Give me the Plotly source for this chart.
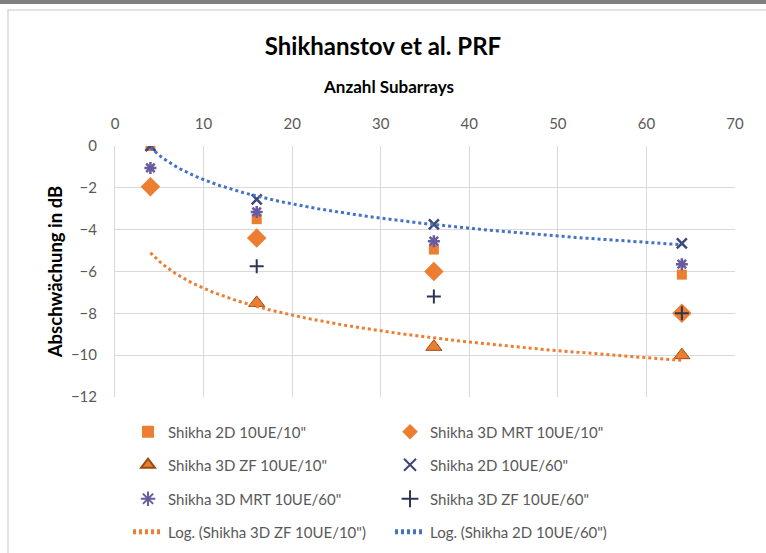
import numpy as np
import plotly.graph_objects as go

# ---- data ----
x_all = [4, 16, 36, 64]
x_zf = [16, 36, 64]

names = ['Shikha 2D 10UE/10"', 'Shikha 3D MRT 10UE/10"', 'Shikha 3D ZF 10UE/10"',
         'Shikha 2D 10UE/60"', 'Shikha 3D MRT 10UE/60"', 'Shikha 3D ZF 10UE/60"']

y_2d_10 = [0, -3.5, -4.95, -6.15]
y_mrt_10 = [-1.95, -4.4, -6.0, -8.0]
y_zf_10 = [-7.5, -9.6, -10.0]
y_2d_60 = [0, -2.55, -3.75, -4.65]
y_mrt_60 = [-1.05, -3.15, -4.55, -5.65]
y_zf_60 = [-5.75, -7.2, -8.0]

trend_names = ['Log. (Shikha 3D ZF 10UE/10")', 'Log. (Shikha 2D 10UE/60")']

x_ticks = [0, 10, 20, 30, 40, 50, 60, 70]
y_ticks = [0, -2, -4, -6, -8, -10, -12]

ORANGE = "#ED7D31"
BLUE = "#4472C4"

fig = go.Figure()

def add_pts(x, y, name, symbol, color, size, lcolor, lwidth, legend):
    fig.add_trace(go.Scatter(
        x=x, y=y, mode="markers", name=name, legend=legend,
        marker=dict(symbol=symbol, color=color, size=size,
                    line=dict(color=lcolor, width=lwidth))))

def add_trend(xs, ys, name, color, legend):
    a, b = np.polyfit(np.log(xs), ys, 1)
    xx = np.linspace(4, 64, 200)
    fig.add_trace(go.Scatter(
        x=xx, y=a * np.log(xx) + b, mode="lines", name=name, legend=legend,
        line=dict(color=color, width=3, dash="3px,3px")))

add_pts(x_all, y_2d_10, names[0], "square", ORANGE, 10, ORANGE, 0, "legend")
add_pts(x_all, y_mrt_10, names[1], "diamond", ORANGE, 15, ORANGE, 0, "legend")
add_pts(x_zf, y_zf_10, names[2], "triangle-up", ORANGE, 14, "#9C4A12", 1, "legend2")
add_pts(x_all, y_2d_60, names[3], "x-thin-open", "#3F4779", 10, "#3F4779", 2.5, "legend2")
add_pts(x_all, y_mrt_60, names[4], "asterisk-open", "#6A5A9E", 10, "#6A5A9E", 2.5, "legend3")
add_pts(x_zf, y_zf_60, names[5], "cross-thin-open", "#2F3552", 10, "#2F3552", 2, "legend3")

add_trend(x_zf, y_zf_10, trend_names[0], ORANGE, "legend4")
add_trend(x_all, y_2d_60, trend_names[1], BLUE, "legend4")

FONT = "Lato"
GRAY = "#595959"

leg_common = dict(orientation="h", x=0.021, xanchor="left", yanchor="middle",
                  entrywidth=217, entrywidthmode="pixels", itemsizing="constant",
                  font=dict(family=FONT, size=15, color=GRAY),
                  bgcolor="rgba(0,0,0,0)", itemclick=False)

H = 251.0  # plot height in px
def ly(py):
    return (397 - py) / H

def lx(px):
    return (px - 115) / 620.0

fig.update_layout(
    width=766, height=553,
    margin=dict(l=115, r=31, t=146, b=156, autoexpand=False),
    paper_bgcolor="white", plot_bgcolor="white",
    font=dict(family=FONT, color=GRAY),
    title=dict(text="<b>Shikhanstov et al. PRF</b>", x=0.5, xanchor="center",
               y=1 - 47 / 553, yref="container", yanchor="middle",
               font=dict(family=FONT, size=24, color="#000000")),
    xaxis=dict(side="top", range=[0, 70], tickvals=x_ticks,
               showgrid=True, gridcolor="#D9D9D9", gridwidth=1,
               zeroline=False, showline=False,
               ticks="outside", ticklen=10, tickcolor="rgba(0,0,0,0)",
               tickfont=dict(family=FONT, size=15, color=GRAY)),
    yaxis=dict(range=[-12, 0], tickvals=y_ticks,
               showgrid=True, gridcolor="#D9D9D9", gridwidth=1,
               zeroline=False, showline=True, linecolor="#D9D9D9", linewidth=1,
               ticks="outside", ticklen=14, tickcolor="rgba(0,0,0,0)",
               tickfont=dict(family=FONT, size=15, color=GRAY),
               title=dict(text="<b>Abschwächung in dB</b>", standoff=3,
                          font=dict(family=FONT, size=18.5, color="#000000"))),
    legend=dict(leg_common, y=ly(432)),
    legend2=dict(leg_common, y=ly(465)),
    legend3=dict(leg_common, y=ly(499)),
    legend4=dict(leg_common, y=ly(532)),
    showlegend=True,
)

# x-axis title (centred on the chart, as in the reference)
fig.add_annotation(text="<b>Anzahl Subarrays</b>", xref="paper", yref="paper",
                   x=lx(388), y=ly(86), xanchor="center", yanchor="middle",
                   showarrow=False, font=dict(family=FONT, size=17, color="#000000"))

# chart frame lines (Excel-like chart border)
fig.add_shape(type="rect", xref="paper", yref="paper",
              x0=lx(8), x1=lx(775), y0=ly(560), y1=ly(10),
              line=dict(color="#D9D9D9", width=1.5), fillcolor="rgba(0,0,0,0)", layer="above")
fig.add_shape(type="rect", xref="paper", yref="paper",
              x0=lx(-5), x1=lx(775), y0=ly(4), y1=ly(-5),
              line=dict(width=0), fillcolor="#7F7F7F", layer="above")

fig.write_html("out.html", config={"displayModeBar": False},
               post_script="document.body.style.margin='0';")
